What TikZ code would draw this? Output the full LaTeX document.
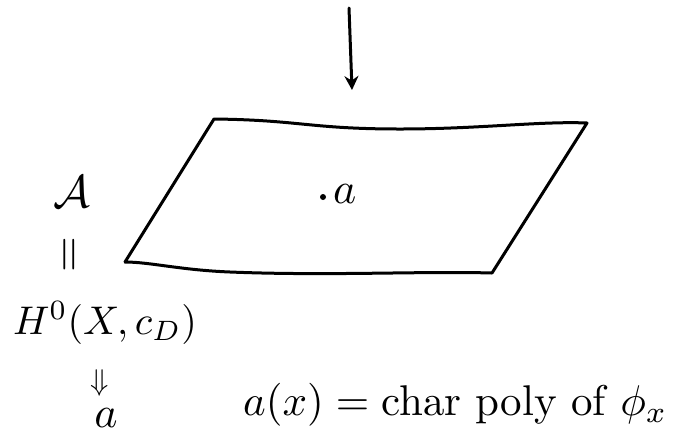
\documentclass[tikz,border=0pt]{standalone}
\usepackage{amsmath}
\usetikzlibrary{arrows.meta}
\newcommand{\bigtxt}[1]{\scalebox{4}{#1}}
\newcommand{\midtxt}[1]{\scalebox{4.4}{#1}}
\begin{document}
\begin{tikzpicture}[x=1pt,y=-1pt,
  pen/.style={line width=3pt,line cap=round,line join=round},
  lbl/.style={inner sep=0pt}]
\useasboundingbox (0,0) rectangle (680,440);
% parallelogram plane
\coordinate (tl) at (214,119);
\coordinate (tr) at (587,123);
\coordinate (br) at (492,273);
\coordinate (bl) at (125,262);
\draw[pen] (bl) -- (tl) .. controls (300,120) and (310,129) .. (400,129)
  .. controls (480,129) and (540,121) .. (tr) -- (br)
  .. controls (420,271) and (330,276) .. (230,272)
  .. controls (180,270) and (150,262) .. (bl);
% arrow from above
\coordinate (atop) at (349,8);
\coordinate (atip) at (352,90);
\draw[pen,-{Stealth[length=14pt,width=14pt]}] (atop) -- (atip);
% point a
\node[circle,fill,inner sep=0pt,minimum size=6pt] (dot) at (323,197) {};
\node[lbl,anchor=west] (pa) at (333,194) {\midtxt{$a$}};
% left column
\node[lbl] (A) at (72,192) {\scalebox{4.6}{$\mathcal{A}$}};
\node[lbl] (eq) at (72,255) {\scalebox{4.6}{\rotatebox{90}{$=$}}};
\node[lbl] (H) at (105,323) {\bigtxt{$H^0(X,c_D)$}};
\node[lbl] (da) at (100,383) {\scalebox{3}{$\Downarrow$}};
\node[lbl] (a2) at (106,418) {\midtxt{$a$}};
% formula
\node[lbl,anchor=west] (f) at (243,405) {\scalebox{4.3}{$a(x) = \text{char poly of } \phi_x$}};
\end{tikzpicture}
\end{document}
